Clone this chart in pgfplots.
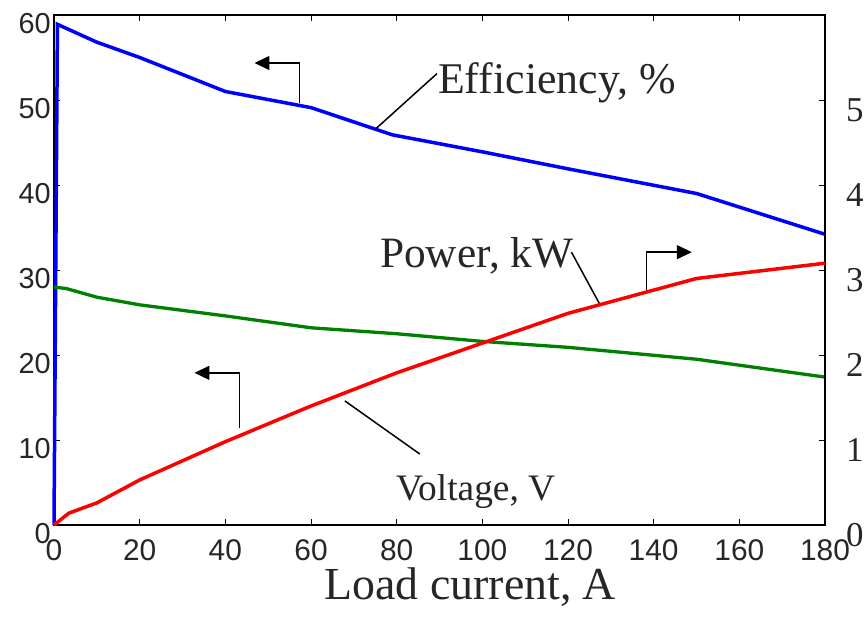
\documentclass[border=0pt]{standalone}
\usepackage{pgfplots}
\pgfplotsset{compat=1.18}
\usepackage{fontspec}
\setmainfont{Liberation Serif}
\newfontfamily\arialfont{Liberation Sans}
\usetikzlibrary{arrows.meta}
\definecolor{tickgray}{HTML}{262626}
\definecolor{mygreen}{RGB}{0,128,0}
\begin{document}
\begin{tikzpicture}[x=1bp,y=1bp]
\useasboundingbox (0,0) rectangle (867,624);
\begin{axis}[at={(54bp,99bp)}, anchor=south west, scale only axis,
  width=771bp, height=510bp,
  xmin=0, xmax=180, ymin=0, ymax=60,
  xtick={0,20,...,180}, ytick={0,10,...,60},
  xtick pos=both, ytick pos=left, tick align=inside, major tick length=6bp,
  axis line style={line width=1.8bp},
  every tick/.style={black, line width=0.8bp},
  /pgf/number format/assume math mode=true,
  xticklabel style={font=\arialfont\fontsize{30}{30}\selectfont, text=tickgray, inner sep=0pt, anchor=north, yshift=-14bp},
  yticklabel style={font=\arialfont\fontsize{29}{29}\selectfont, text=tickgray, inner sep=0pt, anchor=east, xshift=-3bp, yshift=-9bp},
  xlabel={Load current, A},
  xlabel style={font=\fontsize{46}{46}\selectfont, text=tickgray, at={(axis description cs:0.54,-0.146)}, anchor=base, inner sep=0pt},
  clip=false]
\addplot[blue, line width=3.5bp] coordinates {(0,0) (0.8,58.9) (10,56.8) (20,55.0) (40,51.0) (60,49.1) (79,45.9) (100,43.9) (120,41.9) (150,39.0) (180,34.2)};
\addplot[mygreen, line width=3.3bp] coordinates {(0,28.0) (3,27.8) (10,26.8) (20,25.9) (40,24.6) (60,23.2) (80,22.5) (100,21.6) (120,20.9) (150,19.5) (180,17.4)};
% annotations
\draw[line width=1.5bp] (axis cs:75.1,46.6) -- (axis cs:89.4,53.1);
\node[anchor=base west, inner sep=0pt, font=\fontsize{44}{44}\selectfont, text=tickgray] at (axis cs:89.65,50.8) {Efficiency, \%};
\draw[line width=1.5bp, -{Triangle[length=15bp,width=14bp]}] (axis cs:57.3,49.6) -- (axis cs:57.3,54.35) -- (axis cs:46.8,54.35);
\draw[line width=1.5bp] (axis cs:120.8,32.1) -- (axis cs:127.6,25.8);
\node[anchor=base west, inner sep=0pt, font=\fontsize{43.5}{43.5}\selectfont, text=tickgray] at (axis cs:76.1,30.35) {Power, kW};
\draw[line width=1.5bp, -{Triangle[length=15bp,width=14bp]}] (axis cs:138.3,27.3) -- (axis cs:138.3,32.1) -- (axis cs:148.9,32.1);
\draw[line width=1.5bp, -{Triangle[length=15bp,width=14bp]}] (axis cs:43.3,11.4) -- (axis cs:43.3,17.9) -- (axis cs:32.8,17.9);
\draw[line width=1.5bp] (axis cs:67.9,14.6) -- (axis cs:85.4,8.35);
\node[anchor=base west, inner sep=0pt, font=\fontsize{37.5}{37.5}\selectfont, text=tickgray] at (axis cs:79.8,2.94) {Voltage, V};
\end{axis}
\begin{axis}[at={(54bp,99bp)}, anchor=south west, scale only axis,
  width=771bp, height=510bp,
  xmin=0, xmax=180, ymin=0, ymax=6,
  axis x line=none, axis y line*=right,
  ytick={0,1,...,5}, tick align=inside, major tick length=6bp,
  axis line style={line width=1.8bp, -},
  every tick/.style={black, line width=0.8bp},
  /pgf/number format/assume math mode=true,
  yticklabel style={font=\fontsize{35}{35}\selectfont, text=tickgray, inner sep=0pt, anchor=west, xshift=21bp, yshift=-10bp},
  clip=false]
\addplot[red, line width=3.5bp] coordinates {(0,0) (3.5,0.14) (10,0.26) (20,0.53) (40,0.98) (60,1.40) (80,1.79) (100,2.14) (120,2.49) (150,2.90) (180,3.08)};
\end{axis}
\end{tikzpicture}
\end{document}
